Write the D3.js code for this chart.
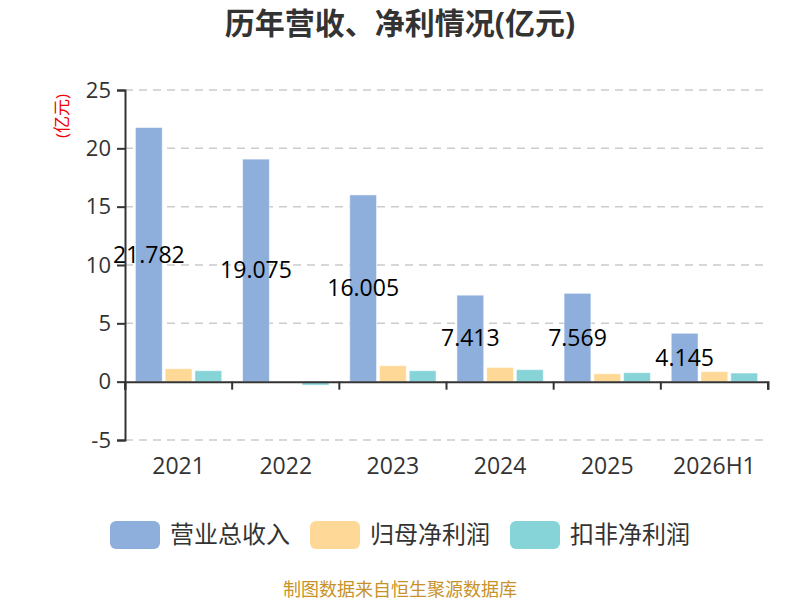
<!DOCTYPE html>
<html>
<head>
<meta charset="utf-8">
<script src="https://cdn.jsdelivr.net/npm/d3@7"></script>
<style>
  body { margin: 0; background: #fff; }
  svg { font-family: "Open Sans", "Noto Sans CJK SC", sans-serif; }
</style>
</head>
<body>
<svg width="800" height="600"></svg>
<script>
const years = ["2021", "2022", "2023", "2024", "2025", "2026H1"];
const seriesNames = ["营业总收入", "归母净利润", "扣非净利润"];
const revenue = [21.782, 19.075, 16.005, 7.413, 7.569, 4.145];
const netProfit = [1.11, 0.05, 1.37, 1.22, 0.68, 0.86];
const deductedProfit = [0.94, -0.3, 0.94, 1.03, 0.77, 0.74];
const yTicks = [-5, 0, 5, 10, 15, 20, 25];
const colors = ["#8eaedb", "#fed897", "#86d4d8"];

const svg = d3.select("svg");
const plotLeft = 125, plotRight = 768, plotTop = 90, plotBottom = 440;

const x = d3.scaleBand().domain(years).range([plotLeft, plotRight]);
const y = d3.scaleLinear().domain([-5, 25]).range([plotBottom, plotTop]);
const inner = d3.scaleBand().domain(seriesNames)
    .range([0, x.bandwidth()]).paddingInner(0.1).paddingOuter(0.35);

// title
svg.append("text")
    .attr("x", 400).attr("y", 34)
    .attr("text-anchor", "middle")
    .style("font-size", "30px").style("font-weight", "bold")
    .style("fill", "#333")
    .text("历年营收、净利情况(亿元)");

// grid
svg.append("g")
    .selectAll("line")
    .data(yTicks.filter(d => d !== 0))
    .join("line")
    .attr("x1", plotLeft).attr("x2", plotRight)
    .attr("y1", d => y(d)).attr("y2", d => y(d))
    .attr("stroke", "#ccc")
    .attr("stroke-dasharray", "8 6")
    .attr("stroke-width", 1.5);

// y axis
const yAxis = svg.append("g")
    .attr("transform", `translate(${plotLeft},0)`)
    .call(d3.axisLeft(y).tickValues(yTicks).tickSize(8).tickPadding(6)
        .tickFormat(d => String(d)));
yAxis.selectAll("line, path").attr("stroke", "#333").attr("stroke-width", 2);
yAxis.selectAll("text").style("font-size", "22px").style("fill", "#333")
    .style("font-family", "'Open Sans', sans-serif");

svg.append("text")
    .attr("transform", `translate(62,116) rotate(-90)`)
    .attr("text-anchor", "middle")
    .attr("dy", "0.35em")
    .style("font-size", "17px").style("fill", "#e00")
    .text("(亿元)");

// bars
const data = years.map((yr, i) => ({
    year: yr,
    values: [revenue[i], netProfit[i], deductedProfit[i]]
}));

const groups = svg.append("g")
    .selectAll("g")
    .data(data)
    .join("g")
    .attr("transform", d => `translate(${x(d.year)},0)`);

groups.selectAll("rect")
    .data(d => d.values.map((v, j) => ({ name: seriesNames[j], value: v, j })))
    .join("rect")
    .attr("x", d => inner(d.name))
    .attr("width", inner.bandwidth())
    .attr("y", d => y(Math.max(0, d.value)))
    .attr("height", d => Math.abs(y(d.value) - y(0)))
    .attr("fill", d => colors[d.j])
    .attr("stroke", "rgba(255,255,255,0.5)")
    .attr("stroke-width", 1);

// value labels centered in the revenue bars
groups.append("text")
    .attr("x", inner(seriesNames[0]) + inner.bandwidth() / 2)
    .attr("y", d => (y(d.values[0]) + y(0)) / 2)
    .attr("dy", "0.35em")
    .attr("text-anchor", "middle")
    .style("font-size", "23px").style("fill", "#000")
    .text(d => d.values[0]);

// x axis at zero
const xAxis = svg.append("g")
    .attr("transform", `translate(0,${y(0)})`)
    .call(d3.axisBottom(x).tickSize(8).tickSizeOuter(8).tickFormat(""));
xAxis.selectAll("line, path").attr("stroke", "#333").attr("stroke-width", 2);
// ticks on band edges
xAxis.selectAll(".tick").remove();
xAxis.selectAll(".edge")
    .data(years.map(d => x(d)).concat([plotRight]))
    .join("line")
    .attr("x1", d => d).attr("x2", d => d)
    .attr("y1", 0).attr("y2", 8)
    .attr("stroke", "#333").attr("stroke-width", 2);

svg.append("g")
    .selectAll("text")
    .data(years)
    .join("text")
    .attr("x", d => x(d) + x.bandwidth() / 2)
    .attr("y", 474)
    .attr("text-anchor", "middle")
    .style("font-size", "23px").style("fill", "#333")
    .text(d => d);

// legend
const legendX = [110, 310, 510];
const legend = svg.append("g")
    .selectAll("g")
    .data(seriesNames)
    .join("g")
    .attr("transform", (d, i) => `translate(${legendX[i]},521)`);
legend.append("rect")
    .attr("width", 50).attr("height", 28).attr("rx", 6)
    .attr("fill", (d, i) => colors[i]);
legend.append("text")
    .attr("x", 60).attr("y", 14).attr("dy", "0.35em")
    .style("font-size", "24px").style("fill", "#333")
    .style("font-family", "'Noto Sans CJK SC', sans-serif")
    .text(d => d);

// source
svg.append("text")
    .attr("x", 400).attr("y", 596)
    .attr("text-anchor", "middle")
    .style("font-size", "18px").style("fill", "#c8922a")
    .style("font-family", "'Noto Sans CJK SC', sans-serif")
    .text("制图数据来自恒生聚源数据库");
</script>
</body>
</html>
